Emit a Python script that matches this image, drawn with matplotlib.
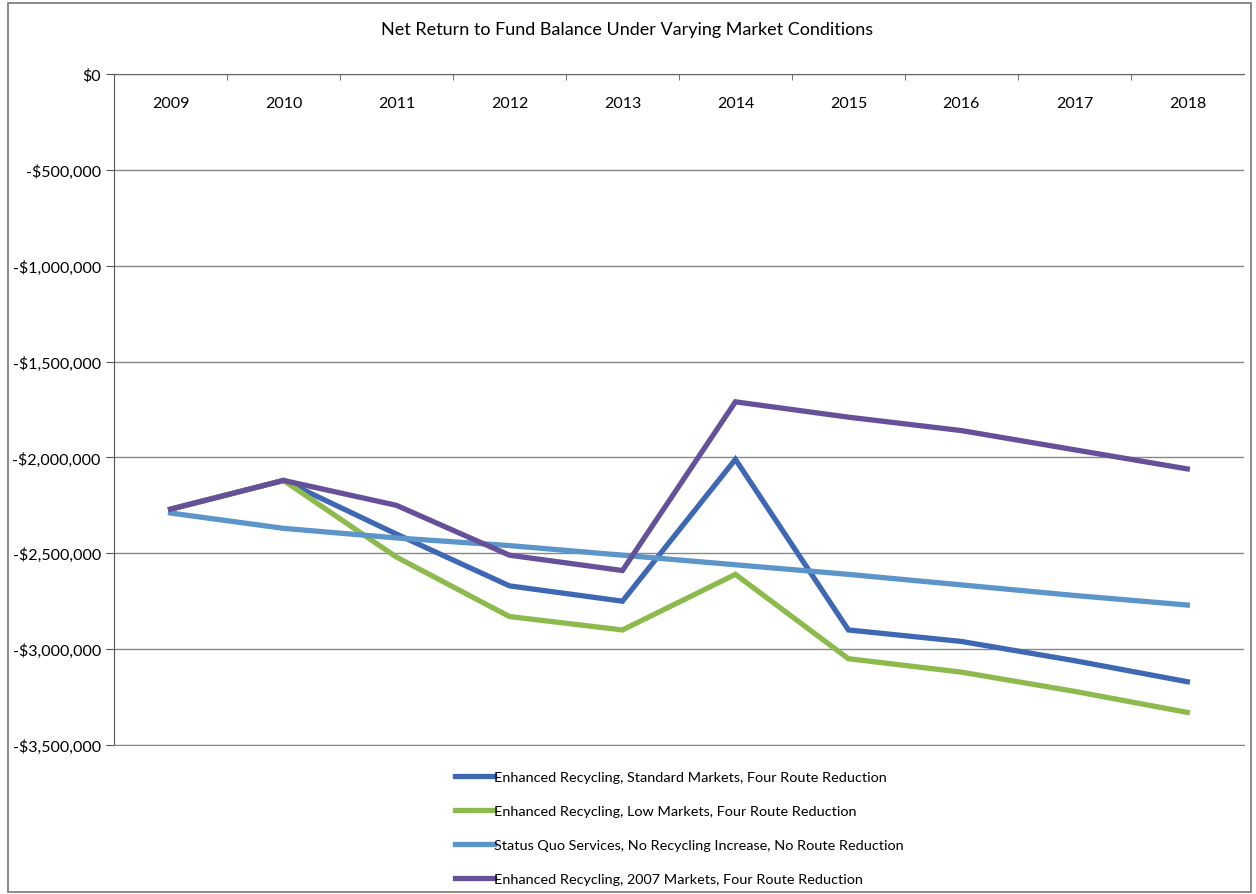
import numpy as np
import matplotlib.pyplot as plt
from matplotlib.ticker import FuncFormatter, FixedLocator
from matplotlib.patches import Rectangle

plt.rcParams['font.family'] = ['Lato', 'DejaVu Sans']

years = ['2009', '2010', '2011', '2012', '2013', '2014', '2015', '2016', '2017', '2018']
standard = [-2270000, -2120000, -2400000, -2670000, -2750000, -2010000, -2900000, -2960000, -3060000, -3170000]
low = [-2270000, -2120000, -2520000, -2830000, -2900000, -2610000, -3050000, -3120000, -3220000, -3330000]
status_quo = [-2290000, -2370000, -2420000, -2460000, -2510000, -2560000, -2610000, -2665000, -2720000, -2770000]
markets_2007 = [-2270000, -2120000, -2250000, -2510000, -2590000, -1710000, -1790000, -1860000, -1960000, -2060000]

labels = ['Enhanced Recycling, Standard Markets, Four Route Reduction',
          'Enhanced Recycling, Low Markets, Four Route Reduction',
          'Status Quo Services, No Recycling Increase, No Route Reduction',
          'Enhanced Recycling, 2007 Markets, Four Route Reduction']
colors = ['#3e67b4', '#8dba4c', '#5b95c9', '#66509a']

fig = plt.figure(figsize=(12.56, 8.95), dpi=100)
ax = fig.add_axes([0.0908, 0.1665, 0.8995, 0.7497])

x = np.arange(len(years))
for series, lab, c in zip([standard, low, status_quo, markets_2007], labels, colors):
    ax.plot(x, series, color=c, lw=3.8, label=lab, solid_joinstyle='miter')

ax.set_xlim(-0.5, len(years) - 0.5)
ax.set_ylim(-3500000, 0)
ax.set_yticks(np.arange(-3500000, 1, 500000))
ax.yaxis.set_major_formatter(FuncFormatter(
    lambda v, p: '$0' if v == 0 else '-${:,.0f}'.format(abs(v))))
ax.grid(axis='y', color='#888888', lw=1)
ax.set_axisbelow(True)

ax.xaxis.tick_top()
ax.set_xticks(x)
ax.set_xticklabels(years)
ax.xaxis.set_minor_locator(FixedLocator(np.arange(0.5, len(years) - 1, 1)))
ax.tick_params(axis='x', which='major', length=0, pad=-26, labelsize=11.5)
ax.tick_params(axis='x', which='minor', direction='in', length=4, color='#555555')
ax.tick_params(axis='y', length=6, color='#555555', labelsize=11.5)

ax.spines['right'].set_visible(False)
ax.spines['bottom'].set_color('#888888')
ax.spines['left'].set_color('#555555')
ax.spines['top'].set_color('#666666')

fig.text(0.499, 0.967, 'Net Return to Fund Balance Under Varying Market Conditions',
         ha='center', va='center', fontsize=13)

fig.legend(loc='lower left', bbox_to_anchor=(0.355, 0.0), frameon=False,
           fontsize=10.4, handlelength=2.7, handletextpad=0.0, labelspacing=1.5,
           borderaxespad=0.25)

fig.patches.append(Rectangle((0.006, 0.002), 0.99, 0.994, transform=fig.transFigure,
                             fill=False, ec='#777777', lw=1.2))

fig.savefig('out.png', dpi=100)
